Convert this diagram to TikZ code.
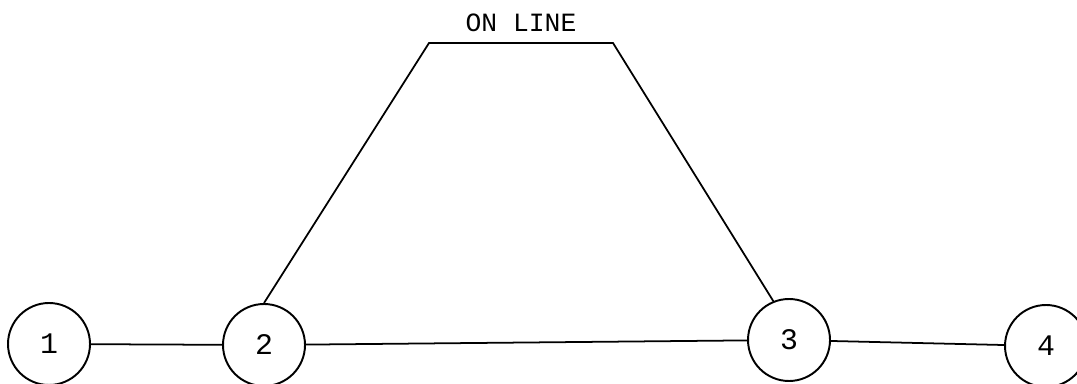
\documentclass[tikz,border=0pt]{standalone}
\usepackage{fontspec}
\setmainfont{Liberation Mono}
\usepackage{tikz}
\usetikzlibrary{positioning,calc}
\tikzset{
  sta/.style={circle,draw,line width=1.1pt,minimum size=1.64cm,inner sep=0pt,
              font=\fontsize{17}{17}\selectfont},
  lnk/.style={line width=1pt},
  lbl/.style={font=\fontsize{15}{15}\selectfont,inner sep=2pt},
}
\begin{document}
\begin{tikzpicture}[x=0.02cm,y=-0.02cm]
    \useasboundingbox (0,0) rectangle (1077,384);
    \node[sta] (n1) at (49,344) {1};
    \node[sta] (n2) at (264,345) {2};
    \node[sta] (n3) at (789,340) {3};
    \node[sta] (n4) at (1046,346) {4};
    \coordinate (tl) at (429,43);
    \coordinate (tr) at (613,43);
    \draw[lnk] (n1) -- (n2);
    \draw[lnk] (n2) -- (n3);
    \draw[lnk] (n3) -- (n4);
    \draw[lnk] (n2.north) -- (tl) -- (tr) -- (n3.112);
    \node[lbl,above=4pt of $(tl)!0.5!(tr)$] (on) {ON LINE};
  \end{tikzpicture}
\end{document}
